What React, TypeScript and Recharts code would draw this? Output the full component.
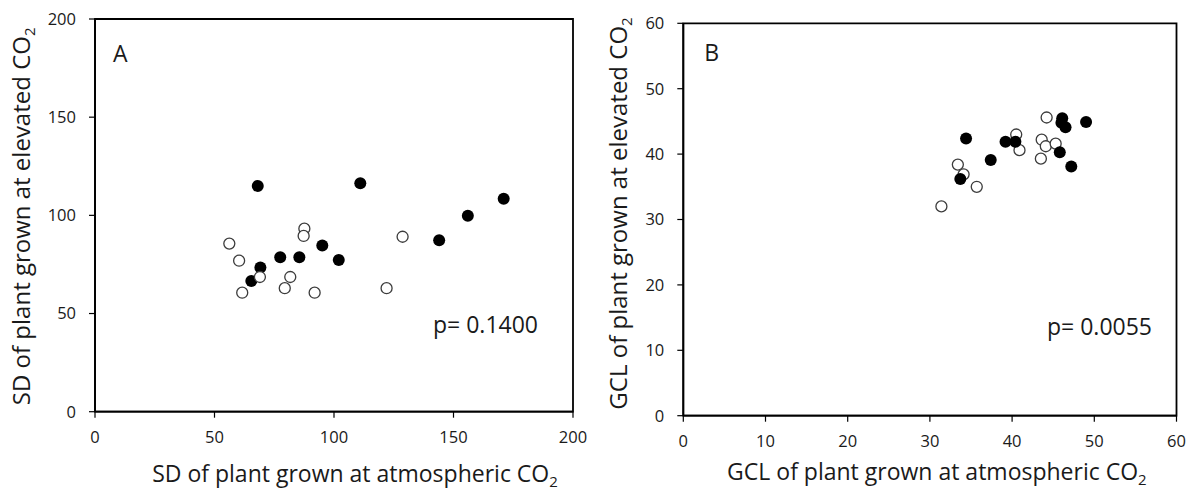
import React from 'react'
import {
  ScatterChart,
  Scatter,
  XAxis,
  YAxis,
  ReferenceArea,
  Label,
} from 'recharts'

// Panel A: SD (atmospheric vs elevated CO2)
const sdAtmFilled = [68.1, 111, 171, 156, 144, 95.1, 102, 77.5, 85.5, 69.2, 65.4]
const sdEleFilled = [115, 116.4, 108.5, 99.8, 87.3, 84.6, 77.3, 78.7, 78.7, 73.4, 66.6]
const sdAtmOpen = [56.2, 60.3, 87.6, 87.3, 128.7, 69, 81.7, 79.4, 61.6, 91.9, 122]
const sdEleOpen = [85.6, 76.9, 93.2, 89.5, 89.1, 68.6, 68.6, 62.9, 60.6, 60.6, 62.9]
const sdTicks = [0, 50, 100, 150, 200]

// Panel B: GCL (atmospheric vs elevated CO2)
const gclAtmFilled = [34.4, 37.4, 39.2, 40.4, 33.7, 46.1, 46.0, 46.5, 49.0, 45.8, 47.2]
const gclEleFilled = [42.4, 39.1, 41.9, 41.9, 36.2, 45.5, 44.8, 44.1, 44.9, 40.3, 38.1]
const gclAtmOpen = [44.2, 40.5, 40.9, 43.6, 44.1, 45.3, 43.5, 33.4, 34.1, 35.7, 31.4]
const gclEleOpen = [45.6, 43.0, 40.6, 42.2, 41.2, 41.6, 39.3, 38.4, 36.9, 35.0, 32.0]
const gclTicks = [0, 10, 20, 30, 40, 50, 60]

const FONT = '"Open Sans", sans-serif'
const TEXT = '#1a1a1a'

const toPoints = (xs: number[], ys: number[]) => xs.map((x, i) => ({ x, y: ys[i] }))

const FilledDot = (p: any) => <circle cx={p.cx} cy={p.cy} r={6} fill="#000" />
const OpenDot = (p: any) => (
  <circle cx={p.cx} cy={p.cy} r={5.5} fill="#fff" stroke="#3c3c3c" strokeWidth={1.3} />
)

// axis title with subscript "2" at the end
function Title({ x, y, text, vertical }: { x: number; y: number; text: string; vertical?: boolean }) {
  return (
    <text
      x={x}
      y={y}
      textAnchor="middle"
      fontFamily={FONT}
      fontSize={vertical ? 24 : 23}
      fill={TEXT}
      transform={vertical ? `rotate(-90 ${x} ${y})` : undefined}
    >
      {text}
      <tspan dy={5} fontSize={15}>2</tspan>
    </text>
  )
}

interface PanelProps {
  left: number
  width: number
  margin: { top: number; right: number; bottom: number; left: number }
  yAxisWidth: number
  ticks: number[]
  max: number
  filled: { x: number; y: number }[]
  open: { x: number; y: number }[]
  openOnTop: boolean
  letter: string
  letterPos: [number, number]
  pText: string
  pPos: [number, number]
  xTitle: string
  yTitle: string
  xTitlePos: [number, number]
  yTitlePos: [number, number]
}

function Panel(props: PanelProps) {
  const tickStyle = { fill: TEXT, fontSize: 16.5, fontFamily: FONT }
  const axisLine = { stroke: '#000', strokeWidth: 1.8 }
  const tickLine = { stroke: '#000', strokeWidth: 1.2 }

  const filledSeries = (
    <Scatter key="f" data={props.filled} shape={FilledDot} isAnimationActive={false} />
  )
  const openSeries = (
    <Scatter key="o" data={props.open} shape={OpenDot} isAnimationActive={false} />
  )

  return (
    <div style={{ position: 'absolute', left: props.left, top: 0 }}>
      <ScatterChart width={props.width} height={490} margin={props.margin}>
        <XAxis
          type="number"
          dataKey="x"
          domain={[0, props.max]}
          ticks={props.ticks}
          interval={0}
          tick={tickStyle}
          tickSize={6}
          tickMargin={14}
          axisLine={axisLine}
          tickLine={tickLine}
          height={60}
          label={
            <Label
              content={({ viewBox }: any) => (
                <Title
                  x={viewBox.x + viewBox.width / 2 + props.xTitlePos[0]}
                  y={viewBox.y + props.xTitlePos[1]}
                  text={props.xTitle}
                />
              )}
            />
          }
        />
        <YAxis
          type="number"
          dataKey="y"
          domain={[0, props.max]}
          ticks={props.ticks}
          interval={0}
          tick={tickStyle}
          tickSize={6}
          tickMargin={13}
          axisLine={axisLine}
          tickLine={tickLine}
          width={props.yAxisWidth}
          label={
            <Label
              content={({ viewBox }: any) => (
                <Title
                  x={props.yTitlePos[0]}
                  y={viewBox.y + viewBox.height / 2 + props.yTitlePos[1]}
                  text={props.yTitle}
                  vertical
                />
              )}
            />
          }
        />
        <ReferenceArea
          x1={0}
          x2={props.max}
          y1={0}
          y2={props.max}
          fill="none"
          stroke="#000"
          strokeWidth={1.8}
          label={
            <Label
              content={({ viewBox }: any) => (
                <g fontFamily={FONT} fill={TEXT} fontSize={23}>
                  <text x={viewBox.x + props.letterPos[0]} y={viewBox.y + props.letterPos[1]}>
                    {props.letter}
                  </text>
                  <text
                    x={viewBox.x + viewBox.width + props.pPos[0]}
                    y={viewBox.y + props.pPos[1]}
                    textAnchor="end"
                  >
                    {props.pText}
                  </text>
                </g>
              )}
            />
          }
        />
        {props.openOnTop ? [filledSeries, openSeries] : [openSeries, filledSeries]}
      </ScatterChart>
    </div>
  )
}

export default function App() {
  return (
    <div
      style={{
        position: 'absolute',
        left: 0,
        top: 0,
        width: 1196,
        height: 490,
        background: '#fff',
        overflow: 'hidden',
      }}
    >
      <Panel
        left={0}
        width={600}
        margin={{ top: 19, right: 27, bottom: 18.3, left: 0 }}
        yAxisWidth={95}
        ticks={sdTicks}
        max={200}
        filled={toPoints(sdAtmFilled, sdEleFilled)}
        open={toPoints(sdAtmOpen, sdEleOpen)}
        openOnTop
        letter="A"
        letterPos={[18, 43]}
        pText="p= 0.1400"
        pPos={[-35, 314]}
        xTitle="SD of plant grown at atmospheric CO"
        yTitle="SD of plant grown at elevated CO"
        xTitlePos={[21, 70]}
        yTitlePos={[30, 1]}
      />
      <Panel
        left={600}
        width={596}
        margin={{ top: 23.3, right: 19.5, bottom: 14.3, left: 0 }}
        yAxisWidth={83.3}
        ticks={gclTicks}
        max={60}
        filled={toPoints(gclAtmFilled, gclEleFilled)}
        open={toPoints(gclAtmOpen, gclEleOpen)}
        openOnTop={false}
        letter="B"
        letterPos={[21, 38]}
        pText="p= 0.0055"
        pPos={[-24.5, 312]}
        xTitle="GCL of plant grown at atmospheric CO"
        yTitle="GCL of plant grown at elevated CO"
        xTitlePos={[7, 64]}
        yTitlePos={[27, -6]}
      />
    </div>
  )
}
